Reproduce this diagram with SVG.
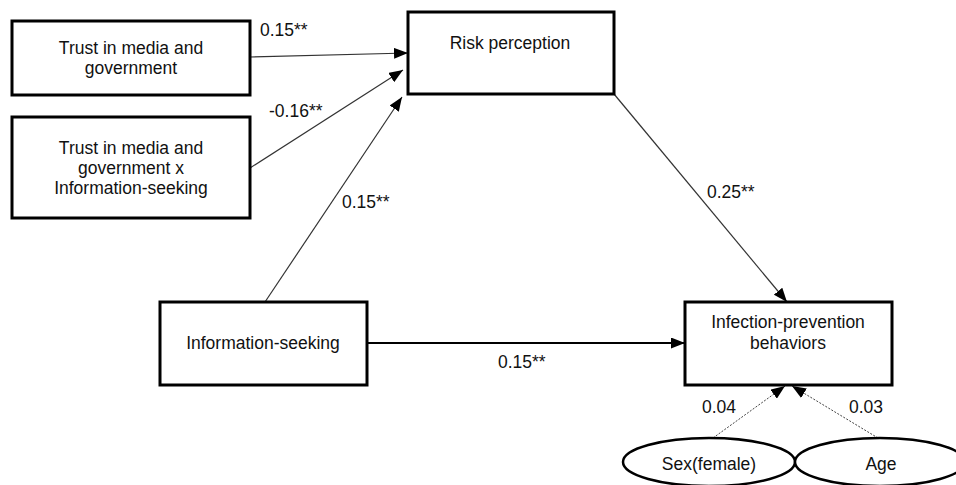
<svg xmlns="http://www.w3.org/2000/svg" width="956" height="485" viewBox="0 0 956 485">
<style>
.box{fill:#fff;stroke:#000;stroke-width:3}
.ell{fill:#fff;stroke:#000;stroke-width:2.5}
text{font-family:"Liberation Sans",Arial,sans-serif;font-size:17.5px;fill:#111}
.c{text-anchor:middle}
.ln{stroke:#333;stroke-width:1.2;fill:none}
.lnb{stroke:#000;stroke-width:2;fill:none}
.dot{stroke:#444;stroke-width:1;stroke-dasharray:2 1.5;fill:none}
</style>
<defs>
<marker id="ah" viewBox="0 0 14 11" refX="14" refY="5.5" markerWidth="14" markerHeight="11" markerUnits="userSpaceOnUse" orient="auto">
<path d="M0,0 L14,5.5 L0,11 Z" fill="#000" stroke="none"/>
</marker>
</defs>
<rect width="956" height="485" fill="#fff"/>
<g id="connectors">
<line class="ln" x1="250" y1="57" x2="408" y2="53" marker-end="url(#ah)"/>
<line class="ln" x1="250" y1="168" x2="403" y2="70" marker-end="url(#ah)"/>
<line class="ln" x1="265" y1="302" x2="402" y2="97" marker-end="url(#ah)"/>
<line class="ln" x1="614" y1="94" x2="787" y2="302" marker-end="url(#ah)"/>
<line class="lnb" x1="367" y1="343" x2="685" y2="343" marker-end="url(#ah)"/>
<line class="dot" x1="713" y1="438" x2="785" y2="386" marker-end="url(#ah)"/>
<line class="dot" x1="878" y1="438" x2="792" y2="386" marker-end="url(#ah)"/>
<text x="260" y="36">0.15**</text>
<text x="269" y="117">-0.16**</text>
<text x="342" y="208">0.15**</text>
<text x="707" y="198">0.25**</text>
<text x="498" y="368">0.15**</text>
<text x="702" y="413">0.04</text>
<text x="849" y="413">0.03</text>
</g>
<g id="trust">
<rect class="box" x="12" y="21" width="238" height="74"/>
<text class="c" x="131" y="54">Trust in media and</text>
<text class="c" x="131" y="74">government</text>
</g>
<g id="trust-x-info">
<rect class="box" x="12" y="117" width="238" height="101"/>
<text class="c" x="131" y="154">Trust in media and</text>
<text class="c" x="131" y="174">government x</text>
<text class="c" x="131" y="194">Information-seeking</text>
</g>
<g id="risk">
<rect class="box" x="408" y="12" width="206" height="82"/>
<text class="c" x="510" y="49">Risk perception</text>
</g>
<g id="info">
<rect class="box" x="160" y="302" width="207" height="83"/>
<text class="c" x="263" y="349">Information-seeking</text>
</g>
<g id="infection">
<rect class="box" x="685" y="302" width="207" height="83"/>
<text class="c" x="788" y="328">Infection-prevention</text>
<text class="c" x="788" y="349">behaviors</text>
</g>
<g id="sex">
<ellipse class="ell" cx="709" cy="462" rx="86" ry="24"/>
<text class="c" x="709" y="470">Sex(female)</text>
</g>
<g id="age">
<ellipse class="ell" cx="880" cy="462" rx="85" ry="24"/>
<text class="c" x="881" y="470">Age</text>
</g>
</svg>
